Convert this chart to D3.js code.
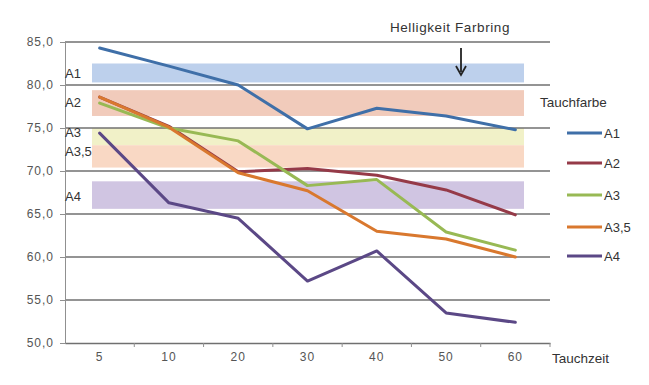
<!DOCTYPE html>
<html><head><meta charset="utf-8">
<script src="https://cdn.jsdelivr.net/npm/d3@7/dist/d3.min.js"></script>
<style>body{margin:0;background:#fff}svg{display:block;font-family:"Liberation Sans",Arial,sans-serif}</style>
</head><body><svg id="c" width="649" height="385"></svg>
<script>
const categories = ["5","10","20","30","40","50","60"];
const seriesNames = ["A1","A2","A3","A3,5","A4"];
const A1  = [84.3, 82.2, 80.0, 74.9, 77.3, 76.4, 74.8];
const A2  = [78.6, 75.2, 69.9, 70.3, 69.5, 67.8, 64.9];
const A3  = [77.9, 75.0, 73.5, 68.3, 69.0, 62.9, 60.8];
const A35 = [78.6, 75.1, 69.8, 67.7, 63.0, 62.1, 60.0];
const A4  = [74.4, 66.3, 64.5, 57.2, 60.7, 53.5, 52.4];
const yTicks = [50,55,60,65,70,75,80,85];
const bandNames = ["A1","A2","A3","A3,5","A4"];
const bandLo = [80.3, 76.4, 73.0, 70.4, 65.6];
const bandHi = [82.5, 79.4, 75.0, 73.0, 68.8];
const colors = ["#3f6fa8","#953a48","#98b954","#d9782e","#5b4886"];
const bandColors = ["#bdd0ec","#f1cbbb","#f1f1c8","#f9d8c4","#d0c5e2"];

const svg = d3.select("#c");
const x = d3.scaleBand().domain(categories).range([65,550]);
const y = d3.scaleLinear().domain([50,85]).range([343,42]);

// bands
const bx0 = 92, bx1 = 524;
svg.append("g").selectAll("rect").data(bandNames).join("rect")
  .attr("x", bx0).attr("width", bx1-bx0)
  .attr("y", (d,i)=>y(bandHi[i])).attr("height",(d,i)=>y(bandLo[i])-y(bandHi[i]))
  .attr("fill",(d,i)=>bandColors[i]);

// gridlines
svg.append("g").selectAll("line").data(yTicks.filter(t=>t>50)).join("line")
  .attr("x1",65).attr("x2",550).attr("y1",d=>y(d)).attr("y2",d=>y(d))
  .attr("stroke","#707070").attr("stroke-width",1.3);

// y axis
const ya = svg.append("g").attr("transform","translate(65,0)")
  .call(d3.axisLeft(y).tickValues(yTicks).tickSize(5).tickFormat(d=>d3.format(".1f")(d).replace(".",",")));
ya.select(".domain").attr("stroke","#909090");
ya.selectAll(".tick line").attr("stroke","#909090");
ya.selectAll("text").attr("font-size",12).attr("letter-spacing",1).attr("fill","#555").attr("x",-11);

// x axis
const xa = svg.append("g").attr("transform","translate(0,343)")
  .call(d3.axisBottom(x).tickSize(0).tickPadding(9));
xa.select(".domain").attr("stroke","#707070").attr("stroke-width",1.3);
xa.selectAll("text").attr("font-size",12).attr("letter-spacing",1).attr("fill","#555");
svg.append("g").selectAll("line").data(categories).join("line")
  .attr("x1",d=>x(d)+x.bandwidth()).attr("x2",d=>x(d)+x.bandwidth())
  .attr("y1",343).attr("y2",347).attr("stroke","#909090");

// band labels
svg.append("g").selectAll("text").data(bandNames).join("text")
  .attr("x",65).attr("y",(d,i)=>[78,107,137,156,201][i])
  .attr("font-size",13).attr("fill","#333").text(d=>d);

// lines
const data = [A1,A2,A3,A35,A4];
const line = d3.line().x((d,i)=>x(categories[i])+x.bandwidth()/2).y(d=>y(d));
svg.append("g").selectAll("path").data(data).join("path")
  .attr("d",line).attr("fill","none")
  .attr("stroke",(d,i)=>colors[i]).attr("stroke-width",3)
  .attr("stroke-linejoin","round").attr("stroke-linecap","round");

// title + arrow
svg.append("text").attr("x",450).attr("y",32).attr("text-anchor","middle")
  .attr("font-size",13.5).attr("letter-spacing",0.6).attr("fill","#333").text("Helligkeit Farbring");
svg.append("line").attr("x1",461).attr("x2",461).attr("y1",48).attr("y2",72)
  .attr("stroke","#222").attr("stroke-width",1.8);
svg.append("path").attr("d","M456,66 L461,75 L466,66").attr("fill","none")
  .attr("stroke","#222").attr("stroke-width",1.8);

// legend
svg.append("text").attr("x",540).attr("y",107).attr("font-size",13.5).attr("fill","#333").text("Tauchfarbe");
const lg = svg.append("g").selectAll("g").data(seriesNames).join("g")
  .attr("transform",(d,i)=>`translate(567,${[133,163,195,227,256][i]})`);
lg.append("line").attr("x1",0).attr("x2",35).attr("stroke",(d,i)=>colors[i]).attr("stroke-width",3);
lg.append("text").attr("x",37).attr("y",5).attr("font-size",13).attr("fill","#333").text(d=>d);

// x axis title
svg.append("text").attr("x",552).attr("y",363).attr("font-size",13.5).attr("fill","#333").text("Tauchzeit");
</script></body></html>
